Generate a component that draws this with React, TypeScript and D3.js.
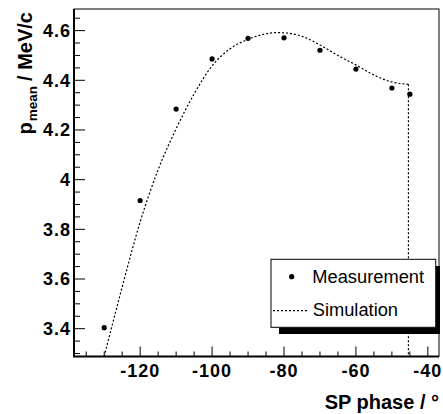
import React from "react";
import * as d3 from "d3";

const measPhase = [-130, -120, -110, -100, -90, -80, -70, -60, -50, -45];
const measP = [3.404, 3.916, 4.284, 4.486, 4.569, 4.571, 4.521, 4.445, 4.369, 4.344];

const simPhase = [-130.0, -125.0, -120.0, -115.0, -110.0, -105.0, -100.0, -95.0, -90.0, -86.0, -82.0, -78.0, -73.6, -70.0, -64.4, -60.0, -55.1, -50.5, -45.4];
const simP = [3.288, 3.568, 3.830, 4.040, 4.205, 4.345, 4.458, 4.527, 4.565, 4.584, 4.592, 4.588, 4.569, 4.542, 4.495, 4.462, 4.422, 4.395, 4.384];
const simDropPhase = [-45.4, -45.4];
const simDropP = [4.384, 3.2];

const xTicks = [-120, -100, -80, -60, -40];
const yTicks = [3.4, 3.6, 3.8, 4.0, 4.2, 4.4, 4.6];

const FONT = "'Liberation Sans', Arial, Helvetica, sans-serif";

export default function App() {
  const L = 74, R = 439, T = 9, B = 356.5;
  const x = d3.scaleLinear().domain([-138.4, -36.9]).range([L, R]);
  const y = d3.scaleLinear().domain([3.288, 4.687]).range([B, T]);

  const xMinor = d3.range(-135, -36, 5);
  const yMinor = d3.range(3.3, 4.69, 0.05);

  const simPts: [number, number][] = simPhase.map((v, i) => [v, simP[i]]);
  const dropPts: [number, number][] = simDropPhase.map((v, i) => [v, simDropP[i]]);
  const curveLine = d3.line<[number, number]>().x(d => x(d[0])).y(d => y(d[1])).curve(d3.curveMonotoneX);
  const lin = d3.line<[number, number]>().x(d => x(d[0])).y(d => y(d[1]));

  return (
    <svg width={443} height={414} style={{ position: "absolute", left: 0, top: 0, background: "#fff" }} fontFamily={FONT}>
      <defs>
        <clipPath id="frame">
          <rect x={L} y={T} width={R - L} height={B - T} />
        </clipPath>
      </defs>
      <rect x={0} y={0} width={443} height={414} fill="#fff" />
      {/* frame */}
      <rect x={L} y={T} width={R - L} height={B - T} fill="none" stroke="#000" strokeWidth={1} />

      {/* simulation */}
      <g clipPath="url(#frame)">
        <path d={curveLine(simPts) || ""} fill="none" stroke="#000" strokeWidth={1.2} strokeDasharray="2,2" />
        <path d={lin(dropPts) || ""} fill="none" stroke="#000" strokeWidth={1.2} strokeDasharray="2,2" />
      </g>

      {/* measurement */}
      {measPhase.map((v, i) => (
        <circle key={i} cx={x(v)} cy={y(measP[i])} r={2.6} fill="#000" />
      ))}

      {/* axes lines */}
      <line x1={L} x2={L} y1={T} y2={B} stroke="#000" strokeWidth={2} />
      <line x1={L - 1} x2={R} y1={B} y2={B} stroke="#000" strokeWidth={2} />

      {/* x ticks */}
      {xMinor.map((v, i) => {
        const major = Math.abs(v % 20) < 1e-6;
        return <line key={"xm" + i} x1={x(v)} x2={x(v)} y1={B} y2={B - (major ? 10 : 5)} stroke="#000" strokeWidth={1} />;
      })}
      {xTicks.map(v => (
        <text key={"xt" + v} x={x(v)} y={377} textAnchor="middle" fontSize={18} fontWeight="bold" letterSpacing={1}>{v}</text>
      ))}

      {/* y ticks */}
      {yMinor.map((v, i) => {
        const major = Math.abs(Math.round(v * 100) % 20) < 1e-6;
        return <line key={"ym" + i} x1={L} x2={L + (major ? 11 : 6)} y1={y(v)} y2={y(v)} stroke="#000" strokeWidth={1} />;
      })}
      {yTicks.map(v => (
        <text key={"yt" + v} x={71} y={y(v) + 6.3} textAnchor="end" fontSize={18} fontWeight="bold" letterSpacing={1}>{v === 4 ? "4" : v.toFixed(1)}</text>
      ))}

      {/* axis titles */}
      <text x={439} y={409.3} textAnchor="end" fontSize={20} fontWeight="bold">SP phase / °</text>
      <text transform="translate(32,12) rotate(-90)" textAnchor="end" fontSize={20} fontWeight="bold">
        p<tspan fontSize={13.5} dy={5} dx={1}>mean</tspan><tspan dy={-5} dx={5}>/</tspan><tspan dx={5.5}>MeV/c</tspan>
      </text>

      {/* legend */}
      <rect x={279} y={327.3} width={161} height={6.7} fill="#000" />
      <rect x={435.7} y={266} width={4.3} height={68} fill="#000" />
      <rect x={271} y={259.3} width={164.7} height={68} fill="#fff" stroke="#000" strokeWidth={1} />
      <circle cx={291.7} cy={276.7} r={2.6} fill="#000" />
      <text x={312.3} y={283} fontSize={18.3}>Measurement</text>
      <line x1={273} x2={307.5} y1={310.7} y2={310.7} stroke="#000" strokeWidth={1.2} strokeDasharray="2,2" />
      <text x={312.7} y={316} fontSize={18.3}>Simulation</text>
    </svg>
  );
}
